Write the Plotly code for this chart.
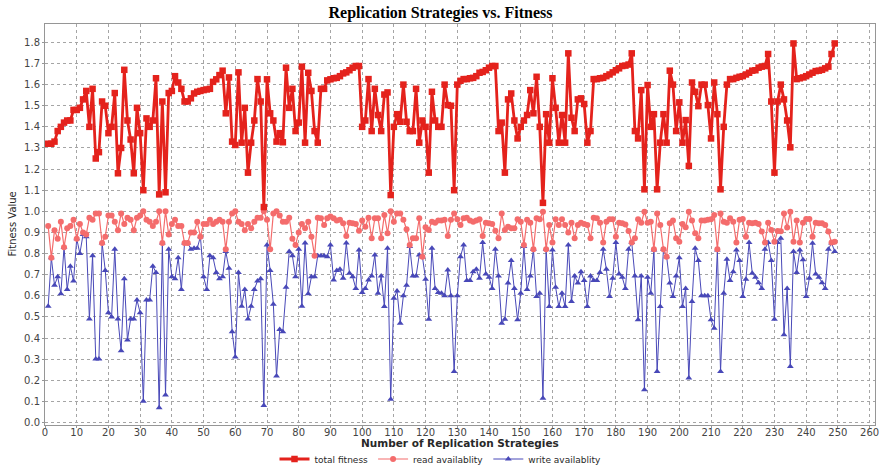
import plotly.graph_objects as go

# Replication strategy index (1..249)
strategies = list(range(1, 250))

total_fitness = [
    1.32, 1.32, 1.33, 1.38, 1.40, 1.42, 1.43, 1.43, 1.48, 1.48,
    1.49, 1.53, 1.57, 1.40, 1.58, 1.25, 1.28, 1.52, 1.50, 1.37,
    1.40, 1.56, 1.18, 1.30, 1.67, 1.43, 1.34, 1.18, 1.49, 1.37,
    1.10, 1.44, 1.40, 1.43, 1.63, 1.08, 1.52, 1.09, 1.56, 1.57,
    1.64, 1.61, 1.58, 1.52, 1.52, 1.535, 1.558, 1.566, 1.57, 1.574,
    1.577, 1.58, 1.613, 1.625, 1.645, 1.666, 1.464, 1.634, 1.33, 1.314,
    1.658, 1.325, 1.49, 1.183, 1.325, 1.43, 1.626, 1.52, 1.02, 1.625,
    1.464, 1.43, 1.33, 1.37, 1.327, 1.68, 1.49, 1.58, 1.38, 1.42,
    1.685, 1.325, 1.656, 1.57, 1.38, 1.325, 1.58, 1.58, 1.62, 1.625,
    1.63, 1.632, 1.64, 1.653, 1.658, 1.668, 1.68, 1.688, 1.688, 1.40,
    1.43, 1.626, 1.38, 1.58, 1.456, 1.38, 1.553, 1.563, 1.077, 1.40,
    1.46, 1.424, 1.60, 1.424, 1.38, 1.38, 1.58, 1.325, 1.43, 1.40,
    1.183, 1.566, 1.43, 1.40, 1.40, 1.60, 1.503, 1.50, 1.10, 1.60,
    1.618, 1.626, 1.626, 1.63, 1.632, 1.64, 1.656, 1.66, 1.668, 1.68,
    1.688, 1.688, 1.38, 1.42, 1.183, 1.53, 1.558, 1.43, 1.345, 1.40,
    1.43, 1.456, 1.574, 1.464, 1.637, 1.40, 1.04, 1.46, 1.325, 1.63,
    1.49, 1.325, 1.456, 1.325, 1.748, 1.443, 1.38, 1.53, 1.535, 1.508,
    1.325, 1.38, 1.626, 1.626, 1.63, 1.632, 1.64, 1.648, 1.658, 1.668,
    1.677, 1.688, 1.69, 1.695, 1.748, 1.38, 1.345, 1.574, 1.104, 1.598,
    1.40, 1.46, 1.104, 1.325, 1.46, 1.325, 1.666, 1.60, 1.38, 1.516,
    1.325, 1.432, 1.215, 1.61, 1.566, 1.498, 1.60, 1.60, 1.503, 1.345,
    1.61, 1.46, 1.104, 1.40, 1.60, 1.626, 1.626, 1.632, 1.637, 1.64,
    1.648, 1.656, 1.666, 1.668, 1.68, 1.685, 1.688, 1.745, 1.52, 1.183,
    1.52, 1.60, 1.53, 1.43, 1.303, 1.795, 1.626, 1.63, 1.634, 1.64,
    1.648, 1.656, 1.664, 1.666, 1.67, 1.677, 1.685, 1.745, 1.795,
]

read_availability = [
    0.93, 0.78, 0.91, 0.87, 0.95, 0.83, 0.92, 0.93, 0.96, 0.87,
    0.94, 0.90, 0.89, 0.97, 0.96, 0.99, 0.99, 0.85, 0.88, 0.98,
    0.98, 0.95, 0.91, 0.99, 0.94, 0.97, 0.96, 0.91, 0.97, 0.98,
    1.00, 0.96, 0.95, 0.93, 0.95, 1.00, 0.85, 1.00, 0.89, 0.94,
    0.96, 0.93, 0.93, 0.85, 0.85, 0.90, 0.90, 0.95, 0.88, 0.94,
    0.94, 0.96, 0.94, 0.95, 0.96, 0.95, 0.82, 0.95, 0.99, 1.00,
    0.95, 0.94, 0.91, 0.94, 0.92, 0.95, 0.97, 0.97, 1.00, 0.96,
    0.82, 0.99, 1.00, 0.98, 0.95, 0.95, 0.97, 0.87, 0.84, 0.90,
    0.94, 0.92, 0.95, 0.88, 0.79, 0.97, 0.967, 0.935, 0.967, 0.975,
    0.967, 0.956, 0.96, 0.943, 0.883, 0.946, 0.943, 0.94, 0.908, 0.956,
    0.927, 0.97, 0.872, 0.967, 0.967, 0.872, 0.983, 0.896, 1.00, 0.95,
    0.99, 0.99, 0.96, 0.915, 0.84, 0.872, 0.872, 0.967, 0.785, 0.924,
    0.912, 0.951, 0.946, 0.956, 0.956, 0.96, 0.883, 0.96, 0.99, 0.962,
    0.935, 0.967, 0.97, 0.956, 0.951, 0.956, 0.962, 0.883, 0.946, 0.943,
    0.94, 0.908, 0.872, 0.99, 0.912, 0.927, 0.92, 0.92, 0.962, 0.951,
    0.84, 0.96, 0.946, 0.82, 0.967, 0.962, 0.998, 0.82, 0.935, 0.852,
    0.962, 0.935, 0.962, 0.935, 0.90, 0.946, 0.872, 0.935, 0.946, 0.94,
    0.935, 0.872, 0.97, 0.967, 0.946, 0.852, 0.951, 0.962, 0.962, 0.88,
    0.946, 0.943, 0.938, 0.907, 0.852, 0.872, 0.962, 0.946, 0.998, 0.946,
    0.951, 0.82, 0.99, 0.935, 0.82, 0.785, 0.943, 0.956, 0.872, 0.856,
    0.94, 0.924, 0.998, 0.956, 0.896, 0.872, 0.956, 0.956, 0.96, 0.962,
    0.983, 0.82, 0.99, 0.951, 0.946, 0.967, 0.951, 0.852, 0.96, 0.964,
    0.88, 0.946, 0.943, 0.946, 0.94, 0.904, 0.852, 0.946, 0.912, 0.856,
    0.907, 0.905, 0.99, 0.923, 0.998, 0.856, 0.956, 0.852, 0.946, 0.964,
    0.964, 0.88, 0.946, 0.943, 0.943, 0.935, 0.904, 0.852, 0.856,
]

write_availability = [
    0.55, 0.78, 0.65, 0.69, 0.61, 0.83, 0.63, 0.74, 0.67, 0.87,
    0.80, 0.89, 0.88, 0.49, 0.79, 0.30, 0.30, 0.85, 0.72, 0.52,
    0.50, 0.82, 0.49, 0.34, 0.68, 0.39, 0.49, 0.49, 0.58, 0.52,
    0.10, 0.58, 0.58, 0.74, 0.71, 0.07, 0.85, 0.13, 0.82, 0.69,
    0.68, 0.78, 0.63, 0.85, 0.85, 0.82, 0.825, 0.825, 0.88, 0.69,
    0.63, 0.79, 0.78, 0.71, 0.68, 0.69, 0.81, 0.73, 0.43, 0.31,
    0.71, 0.55, 0.63, 0.49, 0.55, 0.63, 0.67, 0.68, 0.08, 0.84,
    0.72, 0.56, 0.22, 0.44, 0.43, 0.64, 0.81, 0.79, 0.69, 0.82,
    0.55, 0.85, 0.61, 0.69, 0.69, 0.79, 0.79, 0.79, 0.785, 0.84,
    0.675, 0.72, 0.725, 0.683, 0.85, 0.707, 0.69, 0.635, 0.817, 0.615,
    0.635, 0.675, 0.694, 0.793, 0.612, 0.694, 0.549, 0.825, 0.11, 0.588,
    0.623, 0.47, 0.60, 0.65, 0.833, 0.694, 0.694, 0.793, 0.785, 0.678,
    0.489, 0.825, 0.635, 0.615, 0.612, 0.60, 0.722, 0.60, 0.241, 0.60,
    0.785, 0.84, 0.672, 0.672, 0.714, 0.725, 0.683, 0.852, 0.703, 0.688,
    0.635, 0.82, 0.694, 0.47, 0.489, 0.66, 0.767, 0.635, 0.486, 0.612,
    0.833, 0.63, 0.694, 0.82, 0.596, 0.612, 0.115, 0.82, 0.549, 0.817,
    0.64, 0.549, 0.612, 0.549, 0.84, 0.573, 0.694, 0.66, 0.714, 0.672,
    0.549, 0.694, 0.672, 0.672, 0.71, 0.82, 0.725, 0.596, 0.683, 0.852,
    0.703, 0.688, 0.635, 0.82, 0.852, 0.694, 0.486, 0.694, 0.155, 0.688,
    0.612, 0.817, 0.241, 0.549, 0.82, 0.785, 0.66, 0.596, 0.694, 0.78,
    0.549, 0.635, 0.21, 0.573, 0.825, 0.767, 0.60, 0.60, 0.60, 0.486,
    0.446, 0.817, 0.241, 0.612, 0.773, 0.672, 0.714, 0.817, 0.767, 0.596,
    0.678, 0.852, 0.707, 0.688, 0.662, 0.635, 0.82, 0.852, 0.767, 0.489,
    0.852, 0.872, 0.415, 0.635, 0.265, 0.81, 0.71, 0.817, 0.77, 0.596,
    0.683, 0.849, 0.703, 0.688, 0.662, 0.635, 0.82, 0.85, 0.81,
]

x_ticks = list(range(0, 261, 10))
y_ticks = [round(v * 0.1, 1) for v in range(0, 19)]

RED = "rgb(228,34,28)"
PINK = "rgb(244,108,108)"
BLUE = "rgb(72,72,184)"
TEXT = "rgb(40,40,40)"

W, H = 881, 466
ML, MR, MT, MB = 45, 6, 24, 41
PLOT_W = W - ML - MR
PLOT_H = H - MT - MB

fig = go.Figure()

# blue and pink drawn underneath, the heavy red series on top
fig.add_trace(go.Scatter(
    x=strategies, y=write_availability, name="write availablity",
    mode="lines+markers", legendrank=3,
    line=dict(color=BLUE, width=1),
    marker=dict(symbol="triangle-up", size=6, color=BLUE),
))
fig.add_trace(go.Scatter(
    x=strategies, y=read_availability, name="read availablity",
    mode="lines+markers", legendrank=2,
    line=dict(color=PINK, width=1.2),
    marker=dict(symbol="circle", size=6, color=PINK),
))
fig.add_trace(go.Scatter(
    x=strategies, y=total_fitness, name="total fitness",
    mode="lines+markers", legendrank=1,
    line=dict(color=RED, width=2.8),
    marker=dict(symbol="square", size=6.5, color=RED),
))

axis_common = dict(
    showgrid=True, gridcolor="rgb(165,165,165)", griddash="dot", gridwidth=1,
    showline=True, linecolor="rgb(150,150,150)", linewidth=1, mirror=True,
    ticks="outside", ticklen=2, tickcolor="rgb(150,150,150)",
    tickfont=dict(family="DejaVu Sans", size=10, color="rgb(68,68,68)"),
    zeroline=False, automargin=False,
)

fig.update_layout(
    width=W, height=H,
    margin=dict(l=ML, r=MR, t=MT, b=MB, autoexpand=False),
    paper_bgcolor="white", plot_bgcolor="white",
    title=dict(
        text="<b>Replication Strategies vs. Fitness</b>",
        x=0.5, xref="container", xanchor="center",
        y=1 - 12 / H, yref="container", yanchor="middle",
        font=dict(family="Liberation Serif", size=16, color="black"),
    ),
    xaxis=dict(**axis_common, range=[0, 261.7], tickvals=x_ticks,
               ticklabelstandoff=-4),
    yaxis=dict(**axis_common, range=[-0.012, 1.887], tickvals=y_ticks,
               tickformat=".1f"),
    legend=dict(
        orientation="h", x=0.5, xanchor="center", xref="container",
        y=1 - 459 / H, yanchor="middle", yref="container",
        font=dict(family="DejaVu Sans", size=9, color=TEXT),
        itemwidth=30, tracegroupgap=0,
    ),
    annotations=[
        dict(text="<b>Number of Replication Strategies</b>",
             xref="paper", x=0.5, xanchor="center",
             yref="paper", y=(H - MB - 443) / PLOT_H, yanchor="middle",
             showarrow=False,
             font=dict(family="DejaVu Sans", size=10.5, color=TEXT)),
        dict(text="Fitness Value", textangle=-90,
             xref="paper", x=(12 - ML) / PLOT_W, xanchor="center",
             yref="paper", y=0.5, yanchor="middle",
             showarrow=False,
             font=dict(family="DejaVu Sans", size=10, color=TEXT)),
    ],
    showlegend=True,
)

fig.write_html("out.html")
